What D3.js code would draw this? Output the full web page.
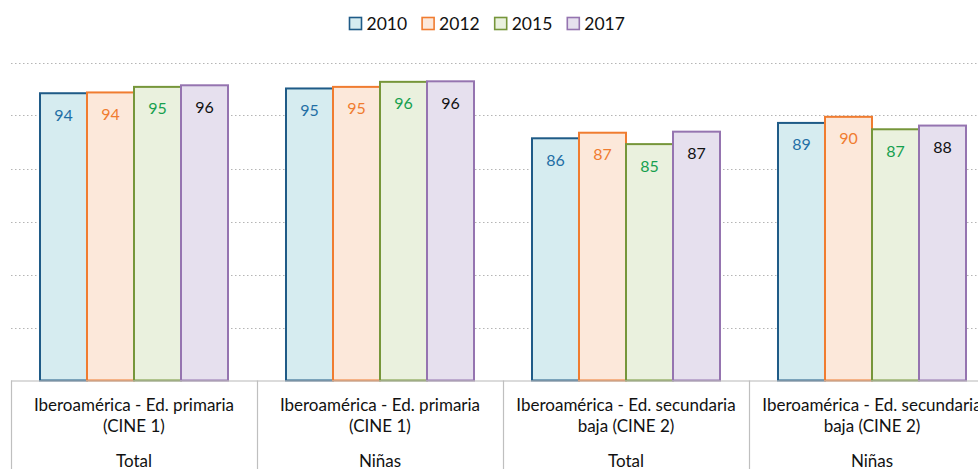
<!DOCTYPE html>
<html>
<head>
<meta charset="utf-8">
<script src="https://cdn.jsdelivr.net/npm/d3@7"></script>
<style>
  body { margin: 0; background: #fff; }
  svg { display: block; font-family: Lato, "Open Sans", sans-serif; }
</style>
</head>
<body>
<svg id="chart" width="978" height="469"></svg>
<script>
// categories (two lines of the level label + sub label)
const groups = ['prim-total', 'prim-ninas', 'sec-total', 'sec-ninas'];
const groupLine1 = ['Iberoamérica - Ed. primaria', 'Iberoamérica - Ed. primaria', 'Iberoamérica - Ed. secundaria', 'Iberoamérica - Ed. secundaria'];
const groupLine2 = ['(CINE 1)', '(CINE 1)', 'baja (CINE 2)', 'baja (CINE 2)'];
const groupSub = ['Total', 'Niñas', 'Total', 'Niñas'];

const years = ['2010', '2012', '2015', '2017'];
const v2010 = [94.2, 95.1, 85.7, 88.6];
const v2012 = [94.35, 95.4, 86.75, 89.75];
const v2015 = [95.4, 96.35, 84.6, 87.4];
const v2017 = [95.7, 96.45, 86.95, 88.1];
const gridTicks = [50, 60, 70, 80, 90, 100];

const seriesValues = [v2010, v2012, v2015, v2017];
const strokeCol = ['#1f5b87', '#f07c30', '#76963a', '#9574b0'];
const fillCol = ['#d6ecf0', '#fce8da', '#eaf1de', '#e6e0ee'];
const labelCol = ['#1f6fa5', '#f07c30', '#16a04e', '#111111'];

const svg = d3.select('#chart');

const plotLeft = 11, plotTop = 62.5, plotBase = 380.5, groupW = 246;

const x0 = d3.scaleBand()
    .domain(groups)
    .range([plotLeft, plotLeft + groupW * groups.length]);

const x1 = d3.scaleBand()
    .domain(years)
    .range([0, x0.bandwidth()])
    .paddingOuter(0.617);

const y = d3.scaleLinear()
    .domain([40, 100])
    .range([plotBase, plotTop]);

// dotted gridlines
svg.append('g')
    .selectAll('line')
    .data(gridTicks)
    .join('line')
    .attr('x1', plotLeft)
    .attr('x2', 978)
    .attr('y1', d => Math.round(y(d)) + 0.5)
    .attr('y2', d => Math.round(y(d)) + 0.5)
    .attr('stroke', '#b5b5b5')
    .attr('stroke-width', 1)
    .attr('stroke-dasharray', '1.5,2.5');

// bars
const rows = groups.map((g, i) => ({
    group: g,
    vals: years.map((yr, j) => ({ year: yr, idx: j, value: seriesValues[j][i] }))
}));

const gGroups = svg.append('g')
    .selectAll('g')
    .data(rows)
    .join('g')
    .attr('transform', d => `translate(${x0(d.group)},0)`);

gGroups.selectAll('rect')
    .data(d => d.vals)
    .join('rect')
    .attr('x', d => x1(d.year))
    .attr('y', d => y(d.value))
    .attr('width', x1.bandwidth())
    .attr('height', d => plotBase - y(d.value))
    .attr('fill', d => fillCol[d.idx])
    .attr('stroke', d => strokeCol[d.idx])
    .attr('stroke-width', 2);

gGroups.selectAll('text')
    .data(d => d.vals)
    .join('text')
    .attr('x', d => x1(d.year) + x1.bandwidth() / 2)
    .attr('y', d => y(d.value) + 27.5)
    .attr('text-anchor', 'middle')
    .attr('font-size', 16)
    .attr('fill', d => labelCol[d.idx])
    .text(d => d3.format('.0f')(d.value));

// category axis: baseline + separators
svg.append('line')
    .attr('x1', plotLeft).attr('x2', 978)
    .attr('y1', plotBase + 0.5).attr('y2', plotBase + 0.5)
    .attr('stroke', '#bfbfbf')
    .attr('stroke-opacity', 0.75)
    .attr('stroke-width', 1.5);

const seps = groups.map(g => x0(g)).concat([x0.range()[1]]);
svg.append('g')
    .selectAll('line')
    .data(seps)
    .join('line')
    .attr('x1', d => Math.round(d) + 0.5)
    .attr('x2', d => Math.round(d) + 0.5)
    .attr('y1', plotBase)
    .attr('y2', 469)
    .attr('stroke', '#bfbfbf')
    .attr('stroke-width', 1.2);

const catText = svg.append('g')
    .attr('font-size', 17)
    .attr('fill', '#111')
    .attr('text-anchor', 'middle');

groups.forEach((g, i) => {
    const cx = x0(g) + x0.bandwidth() / 2;
    catText.append('text').attr('x', cx).attr('y', 411).text(groupLine1[i]);
    catText.append('text').attr('x', cx).attr('y', 432).text(groupLine2[i]);
    catText.append('text').attr('x', cx).attr('y', 467).text(groupSub[i]);
});

// legend
const legend = svg.append('g')
    .selectAll('g')
    .data(years)
    .join('g')
    .attr('transform', (d, i) => `translate(${349 + i * 72.6},0)`);

legend.append('rect')
    .attr('x', 0.5).attr('y', 17.5)
    .attr('width', 12).attr('height', 12)
    .attr('fill', (d, i) => fillCol[i])
    .attr('stroke', (d, i) => strokeCol[i])
    .attr('stroke-width', 1.6);

legend.append('text')
    .attr('x', 17.5)
    .attr('y', 29.5)
    .attr('font-size', 17.5)
    .attr('fill', '#111')
    .text(d => d);
</script>
</body>
</html>
